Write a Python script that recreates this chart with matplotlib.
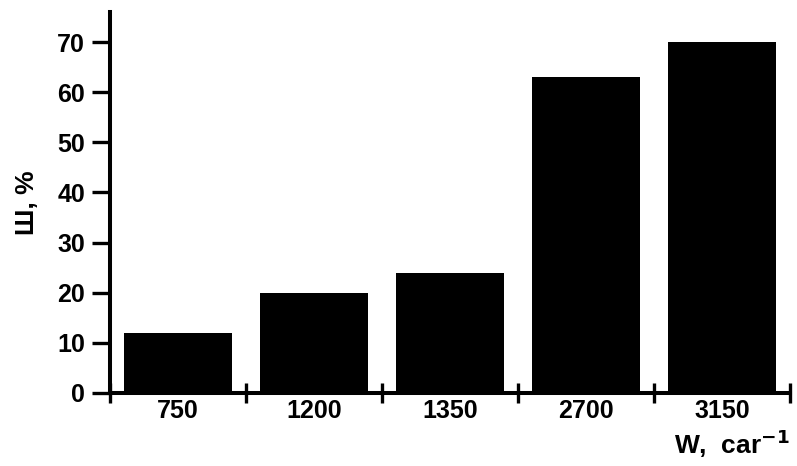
import matplotlib
matplotlib.use("Agg")
import matplotlib.pyplot as plt
import numpy as np

categories = ["750", "1200", "1350", "2700", "3150"]
values = [12, 20, 24, 63, 70]
yticks = [0, 10, 20, 30, 40, 50, 60, 70]

plt.rcParams['font.family'] = ['Liberation Sans', 'DejaVu Sans']
plt.rcParams['font.weight'] = 'bold'

fig = plt.figure(figsize=(7.97, 4.66), dpi=100)
ax = fig.add_axes([110/797, 73/466, 680/797, 381/466])

x = np.arange(1, len(categories) + 1)
ax.bar(x, values, width=0.79, color='black', zorder=3)

ax.set_xlim(0.5, len(categories) + 0.5)
ax.set_ylim(0, 76)

for s in ['top', 'right']:
    ax.spines[s].set_visible(False)
for s in ['left', 'bottom']:
    ax.spines[s].set_linewidth(2.9)

ax.set_yticks(yticks)
ax.set_yticklabels([str(v) for v in yticks], fontsize=18, fontweight='bold')
ax.tick_params(axis='y', direction='out', length=13, width=2.4, pad=5)

ax.set_xticks(np.arange(0.5, len(categories) + 1.0, 1.0))
ax.set_xticklabels([])
ax.tick_params(axis='x', which='major', direction='inout', length=15, width=2.4)
ax.set_xticks(x, minor=True)
ax.set_xticklabels(categories, minor=True, fontsize=18, fontweight='bold')
ax.tick_params(axis='x', which='minor', length=0, pad=4)

ax.set_ylabel("Ш, %", fontsize=19, fontweight='bold', labelpad=13)
fig.text(790/797, 12/466, r"W,  car$^{\mathbf{-1}}$", fontsize=19, fontweight='bold',
         ha='right', va='baseline')

fig.savefig("out.png", dpi=100)
